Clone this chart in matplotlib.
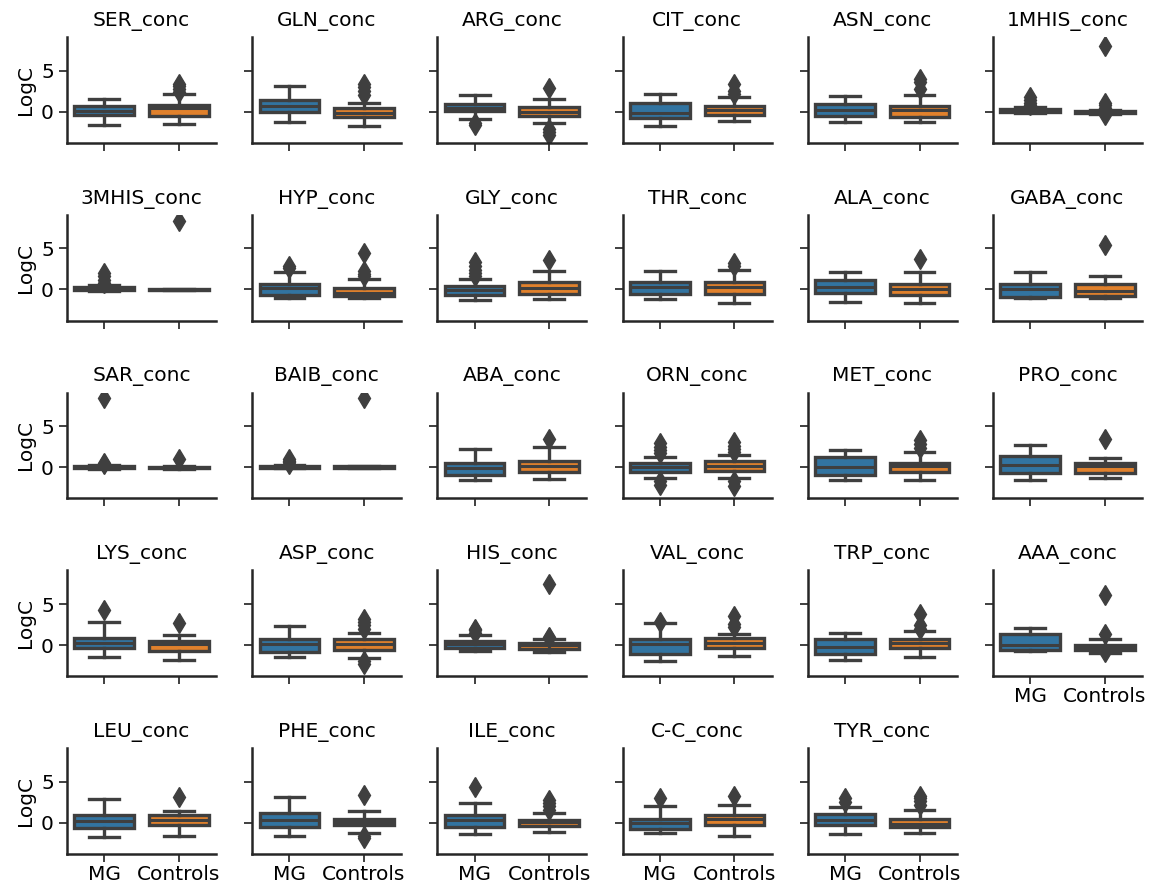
import matplotlib
matplotlib.use("Agg")
import matplotlib.pyplot as plt

# Amino-acid panels, one per measured compound
panels = ["SER_conc", "GLN_conc", "ARG_conc", "CIT_conc", "ASN_conc", "1MHIS_conc",
          "3MHIS_conc", "HYP_conc", "GLY_conc", "THR_conc", "ALA_conc", "GABA_conc",
          "SAR_conc", "BAIB_conc", "ABA_conc", "ORN_conc", "MET_conc", "PRO_conc",
          "LYS_conc", "ASP_conc", "HIS_conc", "VAL_conc", "TRP_conc", "AAA_conc",
          "LEU_conc", "PHE_conc", "ILE_conc", "C-C_conc", "TYR_conc"]
groups = ["MG", "Controls"]

# Box summary statistics (log concentration), MG group
mg_whislo = [-1.6, -1.3, -0.9, -1.7, -1.3, -0.15, -0.2, -1.0, -1.3, -1.2, -1.5, -1.0,
             -0.2, -0.15, -1.6, -1.3, -1.6, -1.6, -1.5, -1.45, -0.7, -2.0, -1.8, -0.7,
             -1.75, -1.6, -1.4, -1.3, -1.35]
mg_q1 = [-0.45, 0.0, 0.05, -0.75, -0.5, -0.05, -0.1, -0.7, -0.72, -0.6, -0.4, -0.9,
         -0.1, -0.1, -0.9, -0.6, -0.9, -0.7, -0.4, -0.85, -0.4, -1.1, -1.1, -0.6,
         -0.67, -0.5, -0.55, -0.7, -0.3]
mg_med = [0.1, 0.75, 0.5, -0.2, 0.15, 0.2, 0.1, 0.2, -0.12, 0.25, 0.3, 0.1,
          0.05, 0.0, -0.1, 0.0, 0.0, 0.3, 0.3, 0.1, 0.1, 0.1, -0.3, 0.0,
          0.25, 0.4, 0.4, 0.0, 0.3]
mg_q3 = [0.7, 1.45, 0.9, 1.0, 0.95, 0.35, 0.3, 0.72, 0.36, 0.9, 1.1, 0.7,
         0.15, 0.1, 0.5, 0.55, 1.2, 1.35, 0.9, 0.7, 0.5, 0.7, 0.7, 1.4,
         1.0, 1.2, 1.0, 0.5, 1.05]
mg_whishi = [1.55, 3.1, 2.0, 2.2, 1.85, 0.6, 0.6, 2.1, 1.3, 2.3, 2.1, 2.1,
             0.3, 0.25, 2.2, 1.3, 2.1, 2.7, 2.75, 2.3, 1.2, 2.7, 1.5, 2.05,
             2.9, 3.1, 2.4, 2.1, 1.95]
mg_fliers = [[], [], [-1.4, -1.6], [], [], [0.8, 1.1, 1.4, 1.8],
             [0.8, 1.2, 1.6, 2.0], [2.6, 2.8], [1.6, 2.0, 2.4, 2.8, 3.3], [], [], [],
             [0.4, 0.55, 8.5], [0.4, 0.6, 0.8, 1.0], [], [1.7, 2.1, 2.5, 3.0, -1.7, -2.2], [], [],
             [4.3], [], [1.5, 1.8, 2.0], [2.85], [], [],
             [], [], [4.4], [3.0], [2.5, 3.0]]

# Box summary statistics (log concentration), Controls group
ct_whislo = [-1.45, -1.77, -1.35, -1.2, -1.3, -0.25, -0.1, -1.1, -1.2, -1.7, -1.7, -1.0,
             -0.2, -0.15, -1.4, -1.3, -1.6, -1.3, -1.8, -1.6, -0.85, -1.3, -1.4, -1.0,
             -1.65, -1.2, -1.1, -1.6, -1.2]
ct_q1 = [-0.47, -0.63, -0.55, -0.4, -0.67, -0.15, -0.1, -0.8, -0.6, -0.6, -0.65, -0.75,
         -0.15, -0.1, -0.6, -0.4, -0.6, -0.65, -0.7, -0.55, -0.45, -0.4, -0.4, -0.6,
         -0.3, -0.3, -0.4, -0.3, -0.45]
ct_med = [0.4, -0.2, 0.0, 0.25, 0.2, -0.1, -0.05, -0.4, 0.15, 0.3, 0.1, -0.15,
          -0.1, 0.0, 0.1, 0.2, 0.1, 0.1, 0.1, 0.15, -0.05, 0.25, 0.3, -0.2,
          0.4, 0.05, 0.05, 0.5, -0.1]
ct_q3 = [0.87, 0.4, 0.6, 0.63, 0.7, 0.05, 0.0, 0.12, 0.9, 0.9, 0.7, 0.7,
         0.0, 0.1, 0.8, 0.7, 0.55, 0.55, 0.55, 0.7, 0.25, 0.8, 0.7, 0.0,
         0.9, 0.5, 0.4, 1.0, 0.45]
ct_whishi = [2.2, 1.06, 1.6, 1.8, 2.0, 0.2, 0.1, 1.3, 2.3, 2.4, 2.1, 1.7,
             0.15, 0.2, 2.5, 1.5, 1.8, 1.15, 1.2, 1.5, 0.7, 1.35, 1.7, 0.7,
             1.5, 1.5, 1.2, 2.2, 1.55]
ct_fliers = [[2.4, 2.8, 3.1, 3.4], [2.0, 2.5, 3.0, 3.4], [2.85, -2.1, -2.5, -2.9],
             [2.2, 2.5, 3.4], [2.8, 3.6, 4.0], [0.5, 0.8, 1.1, -0.35, 8.0],
             [8.3], [1.6, 1.9, 2.2, 4.5], [3.6], [2.8, 3.2], [3.75], [5.4],
             [1.0], [8.4], [3.4], [1.8, 2.2, 2.6, 3.1, -1.7, -2.3], [2.3, 2.8, 3.3], [3.4],
             [2.7], [2.0, 2.4, 2.8, 3.2, -1.9, -2.3], [0.9, 1.0, 7.4], [2.2, 2.6, 3.5],
             [2.0, 2.4, 3.8], [1.4, 6.1, -0.85],
             [3.2], [3.4, -1.6, -1.9], [1.6, 2.0, 2.4, 2.8], [3.3], [2.2, 2.6, 3.0, 3.3]]

box_colors = ["#3274a1", "#e1812c"]
line_gray = "#3f3f3f"
font_size = 14.5

n_rows, n_cols = 5, 6
fig, axes = plt.subplots(n_rows, n_cols, figsize=(11.49, 8.83), dpi=100,
                         sharey=True, sharex=True)
fig.subplots_adjust(left=67 / 1149, right=1142 / 1149, top=1 - 37 / 883,
                    bottom=1 - 854 / 883, wspace=0.242, hspace=0.68)

for i, ax in enumerate(axes.flat):
    if i >= len(panels):
        ax.remove()
        continue
    stats = [
        dict(whislo=mg_whislo[i], q1=mg_q1[i], med=mg_med[i], q3=mg_q3[i],
             whishi=mg_whishi[i], fliers=mg_fliers[i]),
        dict(whislo=ct_whislo[i], q1=ct_q1[i], med=ct_med[i], q3=ct_q3[i],
             whishi=ct_whishi[i], fliers=ct_fliers[i]),
    ]
    art = ax.bxp(stats, positions=[0, 1], widths=0.8, patch_artist=True,
                 boxprops=dict(edgecolor=line_gray, linewidth=2.4),
                 whiskerprops=dict(color=line_gray, linewidth=2.4),
                 capprops=dict(color=line_gray, linewidth=2.4),
                 medianprops=dict(color=line_gray, linewidth=2.2),
                 flierprops=dict(marker="d", markerfacecolor=line_gray,
                                 markeredgecolor=line_gray, markersize=10))
    for patch, c in zip(art["boxes"], box_colors):
        patch.set_facecolor(c)
    ax.set_title(panels[i], fontsize=font_size, pad=8)
    ax.set_xlim(-0.5, 1.5)
    ax.set_ylim(-3.8, 9.1)
    ax.set_yticks([0, 5])
    ax.set_xticks([0, 1])
    ax.set_xticklabels(groups, fontsize=font_size)
    ax.tick_params(labelsize=font_size, length=6, width=1.4, color=line_gray)
    ax.tick_params(axis="x", pad=2)
    for side in ("top", "right"):
        ax.spines[side].set_visible(False)
    for side in ("left", "bottom"):
        ax.spines[side].set_linewidth(1.8)
        ax.spines[side].set_color("#262626")
    row, col = divmod(i, n_cols)
    if col == 0:
        ax.set_ylabel("LogC", fontsize=font_size)
    show_x = row == n_rows - 1 or i + n_cols >= len(panels)
    ax.tick_params(axis="x", labelbottom=show_x)

fig.savefig("out.png", dpi=100)
